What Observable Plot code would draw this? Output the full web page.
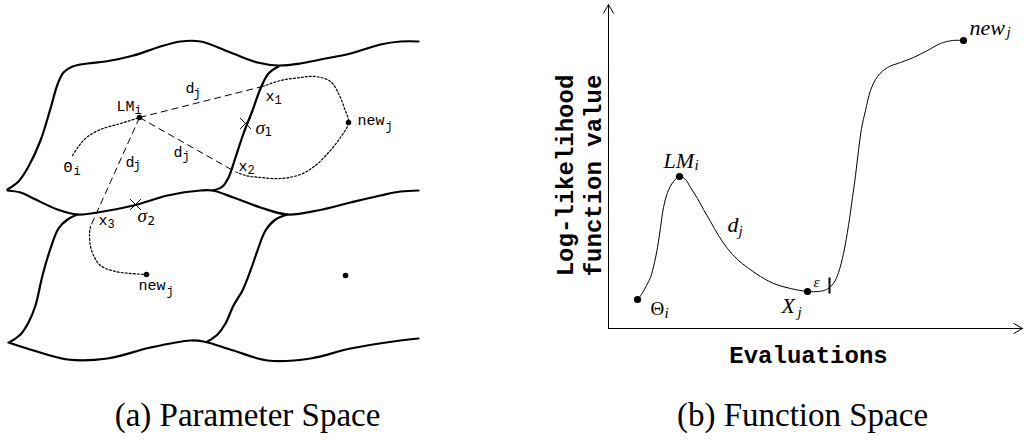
<!DOCTYPE html>
<html><head><meta charset="utf-8">
<script src="https://cdn.jsdelivr.net/npm/d3@7"></script>
<script src="https://cdn.jsdelivr.net/npm/@observablehq/plot@0.6"></script>
<style>body{margin:0;background:#fff;} #chart svg{display:block;}</style>
</head><body><div id="chart"></div>
<script>
// ---------- (a) Parameter space: tile boundaries ----------
const edgeTop = [[7,189],[18,181],[28,166],[40,140],[50,108],[57,84],[63,72],[72,66],[87,63],[105,61],[133,55],[157,47],[180,41],[200,41],[230,52],[257,62],[278,65],[300,63],[320,59],[350,53],[380,44],[400,41],[418,41]];
const edgeMiddle = [[7,190],[20,192],[33,198],[57,209],[77,214],[97,212],[133,205],[167,195],[200,190],[212,190],[233,197],[260,207],[287,214],[317,210],[350,202],[380,195],[400,191],[418,190]];
const edgeBottom = [[8,342],[33,350],[67,359],[107,358],[150,347],[190,340],[203,341],[233,350],[267,360],[310,358],[350,348],[400,340],[418,338]];
const edgeUpperVertical = [[278,66],[268,73],[260,88],[252,110],[243,133],[235,157],[228,177],[222,186],[212,190]];
const edgeLowerLeft = [[77,214],[67,219],[58,228],[50,248],[42,275],[35,305],[28,322],[20,334],[10,341]];
const edgeLowerVertical = [[287,214],[275,219],[265,230],[257,250],[250,270],[242,290],[233,305],[225,323],[217,334],[207,341]];

// dashed distances d_j from LM_i
const dashLM = [139,117];
const dashEnds = [[262,86],[236,172],[90,226]];
// dotted search paths
const pathTheta = [[72,155],[78,146],[86,137],[100,129],[120,123],[139,117]];
const pathUpper = [[262,86],[280,80],[300,77],[315,76],[330,81],[339,95],[344,108],[348,122],[340,137],[328,152],[315,165],[300,174],[280,178],[260,177],[245,175],[237,172]];
const pathLower = [[90,226],[89,233],[90,246],[94,257],[100,265],[115,271],[146,274]];
// points
const leftDots = [[139,117],[348,122],[146,274],[345,275]];
const crossMarks = [[245,123],[135,204]];

// labels (monospace) : text, left x, middle y
const monoLabels = [["LM",116,106],["d",185,88],["d",173,152],["d",125,162],["x",265,96],["x",238,166],["x",98,220],["Θ",63,167],["new",357,120],["new",138,285]];
const monoSubs = [["i",134,110],["j",193,93],["j",182,156],["j",133,165],["1",274,100],["2",247,170],["3",107,224],["i",73,171],["j",385,126],["j",166,291]];
const sigmaLabels = [["σ",255,127],["σ",137,215]];
const sigmaSubs = [["1",264,132],["2",147,221]];

// ---------- (b) Function space ----------
const curve = [[637,299],[641,294],[646,285],[650,277],[654,262],[657,247],[660,227],[663,207],[667,192],[673,181],[679,176],[685,179],[690,187],[697,198],[703,209],[710,221],[718,235],[727,248],[737,259],[747,267],[760,276],[773,283],[790,288],[807,291],[818,291],[826,289],[833,283],[838,272],[843,253],[848,225],[852,197],[855,175],[858,150],[861,128],[865,110],[870,90],[877,76],[887,67],[900,62],[913,57],[927,50],[940,43],[952,40],[963,40]];
const rightDots = [[637,299],[679,176],[807,291],[963,40]];
const axesArrows = [[608,328,608,4],[608,328,1022,328]];
const epsilonBar = [[829,277,829,293]];
const mathLabels = [["LM",663,160],["new",969,27],["d",727,224],["X",781,305]];
const mathSubs = [["i",694,165],["j",1006,32],["j",738,231],["j",797,312]];
const epsLabel = [["ε",813,282]];
const uprightLabels = [["Θ",650,308]];
const uprightSubs = [["i",664,313]];
const yAxisLines = [["Log-likelihood",565,175],["function value",593,175]];
const xAxisLabel = [["Evaluations",808,355]];
const captions = [["(a) Parameter Space",247,415],["(b) Function Space",802,415]];

// ---------- build ----------
const rows = (name, pts) => pts.map(([x,y]) => ({name, x, y}));
const edges = [
  ...rows("top", edgeTop), ...rows("mid", edgeMiddle), ...rows("bot", edgeBottom),
  ...rows("uv", edgeUpperVertical), ...rows("ll", edgeLowerLeft), ...rows("lv", edgeLowerVertical)
];
const dashed = dashEnds.map(([x,y]) => ({x1:dashLM[0], y1:dashLM[1], x2:x, y2:y}));
const dotted = [...rows("a", pathTheta), ...rows("b", pathUpper), ...rows("c", pathLower)];
const lbl = arr => arr.map(([t,x,y]) => ({t,x,y}));
const pt = arr => arr.map(([x,y]) => ({x,y}));
const seg = arr => arr.map(([x1,y1,x2,y2]) => ({x1,y1,x2,y2}));

const mono = "Liberation Mono, DejaVu Sans Mono, monospace";
const serif = "Liberation Serif, DejaVu Serif, serif";
const txt = (arr, o) => Plot.text(lbl(arr), {x:"x", y:"y", text:"t", fill:"black", textAnchor:"start", ...o});

const chart = Plot.plot({
  width: 1024, height: 441, margin: 0,
  x: {domain: [0, 1024], range: [0, 1024], axis: null},
  y: {domain: [0, 441], range: [0, 441], axis: null},
  style: {background: "white"},
  marks: [
    Plot.line(edges, {x:"x", y:"y", z:"name", curve:"catmull-rom", stroke:"black", strokeWidth:2.2}),
    Plot.link(dashed, {x1:"x1", y1:"y1", x2:"x2", y2:"y2", stroke:"black", strokeWidth:1, strokeDasharray:"7,4"}),
    Plot.line(dotted, {x:"x", y:"y", z:"name", curve:"catmull-rom", stroke:"black", strokeWidth:1.2, strokeDasharray:"2,2"}),
    Plot.dot(pt(leftDots), {x:"x", y:"y", r:2.8, fill:"black"}),
    Plot.dot(pt(crossMarks), {x:"x", y:"y", r:5, symbol:"times", stroke:"black", strokeWidth:1}),
    txt(monoLabels, {fontFamily:mono, fontSize:15}),
    txt(monoSubs, {fontFamily:mono, fontSize:12}),
    txt(sigmaLabels, {fontFamily:serif, fontStyle:"italic", fontSize:19}),
    txt(sigmaSubs, {fontFamily:"DejaVu Sans, sans-serif", fontSize:12}),

    Plot.arrow(seg(axesArrows), {x1:"x1", y1:"y1", x2:"x2", y2:"y2", stroke:"black", strokeWidth:1, headLength:15, headAngle:60}),
    Plot.line(rows("f", curve), {x:"x", y:"y", curve:"catmull-rom", stroke:"black", strokeWidth:1}),
    Plot.link(seg(epsilonBar), {x1:"x1", y1:"y1", x2:"x2", y2:"y2", stroke:"black", strokeWidth:2}),
    Plot.dot(pt(rightDots), {x:"x", y:"y", r:3.6, fill:"black"}),
    txt(mathLabels, {fontFamily:serif, fontStyle:"italic", fontSize:22}),
    txt(mathSubs, {fontFamily:serif, fontStyle:"italic", fontSize:15}),
    txt(epsLabel, {fontFamily:serif, fontStyle:"italic", fontSize:15}),
    txt(uprightLabels, {fontFamily:serif, fontSize:19}),
    txt(uprightSubs, {fontFamily:serif, fontStyle:"italic", fontSize:15}),
    Plot.text(lbl(yAxisLines), {x:"x", y:"y", text:"t", rotate:-90, fontFamily:mono, fontWeight:"bold", fontSize:24, fill:"black"}),
    Plot.text(lbl(xAxisLabel), {x:"x", y:"y", text:"t", fontFamily:mono, fontWeight:"bold", fontSize:24, fill:"black"}),
    Plot.text(lbl(captions), {x:"x", y:"y", text:"t", fontFamily:serif, fontSize:33, fill:"black"})
  ]
});
document.getElementById("chart").appendChild(chart);
</script>
</body></html>
